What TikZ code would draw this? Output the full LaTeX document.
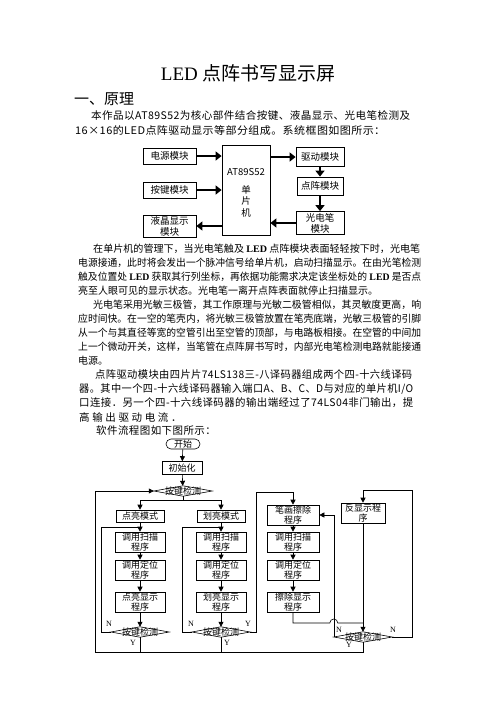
\documentclass[tikz,border=0pt]{standalone}
\usepackage{fontspec}
\usepackage{graphicx}
\setmainfont{Noto Sans CJK SC}
\newfontfamily\lat{Liberation Serif}
\newfontfamily\cjkw{Noto Sans CJK SC}[LetterSpace=4]
\newfontfamily\cjkww{Noto Sans CJK SC}[LetterSpace=25]
\usetikzlibrary{arrows.meta,calc}
\tikzset{>={Triangle[width=5pt,length=5pt]}}
\tikzset{
  txt/.style={anchor=west, inner sep=0pt, font=\fontsize{10}{12}\selectfont},
  txtw/.style={anchor=west, inner sep=0pt, font=\cjkw\fontsize{10.5}{12}\selectfont},
  blk/.style={draw, line width=0.8pt, inner sep=0pt, align=center,
    font=\fontsize{9.5}{11}\selectfont},
  fat/.style={line width=2.8pt, -{Triangle[width=9pt,length=6pt]}},
  fbox/.style={draw, line width=0.6pt, inner sep=0pt, align=center,
    font=\fontsize{9}{10}\selectfont},
  chk/.style={inner sep=0pt, minimum width=58pt, minimum height=10pt,
    font=\fontsize{9}{10}\selectfont},
  ln/.style={line width=0.6pt},
  yn/.style={inner sep=0pt, font=\lat\fontsize{8}{9}\selectfont},
}
\newcommand\jl[2]{\resizebox{#1pt}{\height}{#2}}
\newcommand\diam[1]{\draw[ln] (#1.west) -- (#1.north) -- (#1.east) -- (#1.south) -- cycle;}

\begin{document}
\begin{tikzpicture}[x=1pt,y=-1pt]

  \fill[white] (0,0) rectangle (496,702);
  \useasboundingbox (0,0) rectangle (496,702);

  %% title and first paragraph
  \node[font=\fontsize{19}{22}\selectfont] (title) at (248,73) {{\lat LED} 点阵书写显示屏};
  \node[txt, font=\fontsize{15}{18}\selectfont] (sec) at (74,99) {一、原理};

  \node[txtw] (p1a) at (91,116) {\jl{319}{本作品以AT89S52为核心部件结合按键、液晶显示、光电笔检测及}};
  \node[txtw] (p1b) at (75,131) {\jl{310}{16×16的LED点阵驱动显示等部分组成。系统框图如图所示：}};

  %% block diagram
  \node[blk, minimum width=53pt, minimum height=16pt] (pwr) at (169.5,156) {电源模块};
  \node[blk, minimum width=53pt, minimum height=16pt] (key) at (169.5,190) {按键模块};
  \node[blk, minimum width=53pt, minimum height=22pt] (lcd) at (169.5,226) {液晶显示\\模块};
  \node[blk, minimum width=48pt, minimum height=90pt] (mcu) at (246,190) {};
  \node[align=center, inner sep=0pt, font=\fontsize{9.5}{11.5}\selectfont]
    (mcut) at (246,193) {AT89S52\\[6pt]单\\片\\机};
  \node[blk, minimum width=48pt, minimum height=19pt] (drv) at (320,157) {驱动模块};
  \node[blk, minimum width=46pt, minimum height=18pt] (mat) at (320,186) {点阵模块};
  \node[blk, minimum width=48pt, minimum height=23pt] (pen) at (320,223) {光电笔\\模块};

  \draw[fat] (pwr.east) -- (pwr.east -| mcu.west);
  \draw[fat] (key.east) -- (key.east -| mcu.west);
  \draw[fat] (lcd.east -| mcu.west) -- (lcd.east);
  \draw[fat] (mcu.east |- drv.west) -- (drv.west);
  \draw[fat] (drv.south) -- (mat.north);
  \draw[fat] (mat.south) -- (pen.north);
  \draw[fat] (pen.west) -- (pen.west -| mcu.east);

  %% second and third paragraph
  \node[txt] (p2a) at (93,249) {\jl{327}{在单片机的管理下，当光电笔触及 {\lat\bfseries LED} 点阵模块表面轻轻按下时，光电笔}};
  \node[txt] (p2b) at (78,263) {\jl{343}{电源接通，此时将会发出一个脉冲信号给单片机，启动扫描显示。在由光笔检测}};
  \node[txt] (p2c) at (78,277) {\jl{343}{触及位置处 {\lat\bfseries LED} 获取其行列坐标，再依据功能需求决定该坐标处的 {\lat\bfseries LED} 是否点}};
  \node[txt] (p2d) at (78,291) {亮至人眼可见的显示状态。光电笔一离开点阵表面就停止扫描显示。};
  \node[txt] (p2e) at (93,305) {\jl{328}{光电笔采用光敏三极管，其工作原理与光敏二极管相似，其灵敏度更高，响}};
  \node[txt] (p2f) at (78,319) {\jl{343}{应时间快。在一空的笔壳内，将光敏三极管放置在笔壳底端，光敏三极管的引脚}};
  \node[txt] (p2g) at (78,333) {\jl{343}{从一个与其直径等宽的空管引出至空管的顶部，与电路板相接。在空管的中间加}};
  \node[txt] (p2h) at (78,347) {\jl{343}{上一个微动开关，这样，当笔管在点阵屏书写时，内部光电笔检测电路就能接通}};
  \node[txt] (p2i) at (78,361) {电源。};

  \node[txtw] (p3a) at (95,375) {\jl{317}{点阵驱动模块由四片片74LS138三-八译码器组成两个四-十六线译码}};
  \node[txtw] (p3b) at (79,389) {\jl{334}{器。其中一个四-十六线译码器输入端口A、B、C、D与对应的单片机I/O}};
  \node[txtw] (p3c) at (79,403) {\jl{334}{口连接．另一个四-十六线译码器的输出端经过了74LS04非门输出，提}};
  \node[txtw, font=\cjkww\fontsize{10.5}{12}\selectfont] (p3d) at (79,417) {高输出驱动电流．};
  \node[txtw] (p3e) at (96,431) {软件流程图如下图所示：};

  %% flow chart
  \node[fbox, rounded corners=5pt, minimum width=34pt, minimum height=10pt] (st) at (183,444) {开始};
  \node[fbox, minimum width=40pt, minimum height=13pt] (init) at (182,468) {初始化};
  \node[chk] (k0) at (183,491) {按键检测}; \diam{k0}

  \node[fbox, minimum width=48pt, minimum height=12pt] (m1) at (140,516) {点亮模式};
  \node[fbox, minimum width=48pt, minimum height=12pt] (m2) at (221,516) {划亮模式};

  \node[fbox, minimum width=50pt, minimum height=20pt] (s1) at (140,542) {调用扫描\\程序};
  \node[fbox, minimum width=50pt, minimum height=20pt] (l1) at (140,570) {调用定位\\程序};
  \node[fbox, minimum width=50pt, minimum height=20pt] (d1) at (140,602) {点亮显示\\程序};
  \node[chk] (k1) at (140,632) {按键检测}; \diam{k1}

  \node[fbox, minimum width=50pt, minimum height=20pt] (s2) at (221,542) {调用扫描\\程序};
  \node[fbox, minimum width=50pt, minimum height=20pt] (l2) at (221,570) {调用定位\\程序};
  \node[fbox, minimum width=50pt, minimum height=20pt] (d2) at (221,602) {划亮显示\\程序};
  \node[chk] (k2) at (221,632) {按键检测}; \diam{k2}

  \node[fbox, minimum width=52pt, minimum height=20pt] (e3) at (293,515) {笔画擦除\\程序};
  \node[fbox, minimum width=52pt, minimum height=20pt] (s3) at (293,542) {调用扫描\\程序};
  \node[fbox, minimum width=52pt, minimum height=20pt] (l3) at (293,570) {调用定位\\程序};
  \node[fbox, minimum width=52pt, minimum height=20pt] (d3) at (293,602) {擦除显示\\程序};
  \node[fbox, minimum width=44pt, minimum height=20pt] (r3) at (363,513) {反显示程\\序};
  \node[chk] (k3) at (363,637) {按键检测}; \diam{k3}

  \coordinate (bl) at (95,652);
  \coordinate (br) at (183,500);
  \coordinate (j1) at (140,527);
  \coordinate (c1) at (101,527);
  \coordinate (j2) at (221,527);
  \coordinate (c2) at (182,527);
  \coordinate (c3) at (256,492);
  \coordinate (j3) at (363,623);
  \coordinate (c4) at (412,490);

  \draw[ln,->] (st) -- (init);
  \draw[ln,->] (init) -- (k0);
  \draw[ln] (k0.south) -- (br);
  \draw[ln,->] (br) -| (m1.north);
  \draw[ln,->] (br) -| (m2.north);

  \draw[ln,->] (m1) -- (s1);
  \draw[ln,->] (s1) -- (l1);
  \draw[ln,->] (l1) -- (d1);
  \draw[ln,->] (d1) -- (k1);
  \draw[ln] (k1.west) -| (c1) -- (j1); %% N
  \draw[ln] (k1.south) -- (k1.south |- bl); %% Y

  \draw[ln,->] (m2) -- (s2);
  \draw[ln,->] (s2) -- (l2);
  \draw[ln,->] (l2) -- (d2);
  \draw[ln,->] (d2) -- (k2);
  \draw[ln] (k2.west) -| (c2) -- (j2); %% N
  \draw[ln] (k2.south) -- (k2.south |- bl); %% Y
  \draw[ln,->] (k2.east) -| (c3) -| (e3.north); %% Y -> erase

  \draw[ln,->] (e3) -- (s3);
  \draw[ln,->] (s3) -- (l3);
  \draw[ln,->] (l3) -- (d3);
  \draw[ln] (d3.south) |- ($(k3.west |- j3)+(-4pt,0pt)$)
    arc[start angle=180, end angle=0, radius=4pt] -- (j3);
  \draw[ln,->] (r3) -- (k3);
  \draw[ln,->] (k3.west) |- (e3.east); %% N
  \draw[ln,->] (k3.east) -| (c4) -| (r3.north); %% N
  \draw[ln,->] (k3.south) -- (k3.south |- bl) -- (bl) |- (k0.west); %% Y

  \node[yn] (n1) at (109,624) {N};
  \node[yn] (y1) at (133,643) {Y};
  \node[yn] (n2) at (191,624) {N};
  \node[yn] (y2r) at (248,624) {Y};
  \node[yn] (y2) at (227,643) {Y};
  \node[yn] (n3) at (339,630) {N};
  \node[yn] (n3r) at (393,630) {N};
  \node[yn] (y3) at (349,645) {Y};

\end{tikzpicture}
\end{document}
